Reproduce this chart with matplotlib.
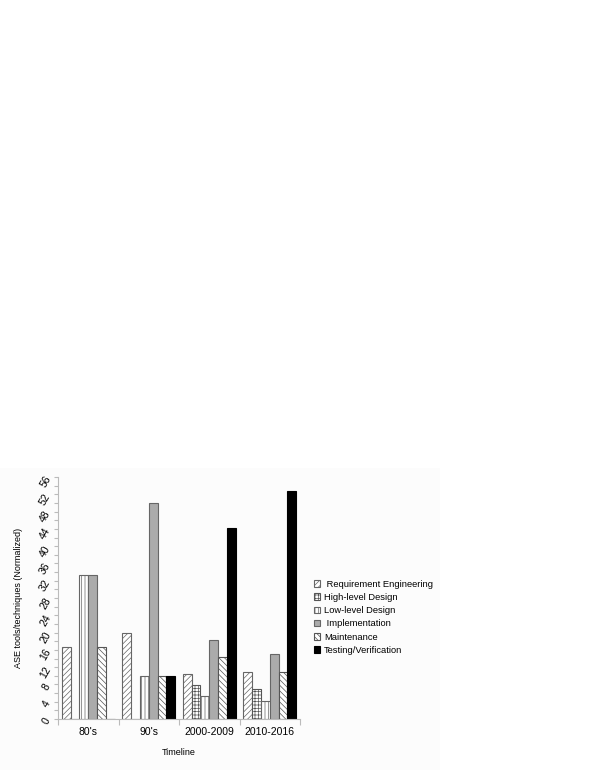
import numpy as np
import matplotlib
matplotlib.use("Agg")
import matplotlib.pyplot as plt
from matplotlib.patches import Rectangle

plt.rcParams['font.family'] = ['Liberation Sans', 'DejaVu Sans']
plt.rcParams['hatch.linewidth'] = 0.5

# Data
periods = ["80's", "90's", "2000-2009", "2010-2016"]
phases = [" Requirement Engineering", "High-level Design", "Low-level Design",
          " Implementation", "Maintenance", "Testing/Verification"]
req_eng = [16.7, 20.0, 10.5, 10.9]
high_level = [0, 0, 7.9, 6.9]
low_level = [33.3, 10.0, 5.3, 4.2]
implementation = [33.3, 50.0, 18.3, 15.0]
maintenance = [16.7, 10.0, 14.4, 10.9]
testing = [0, 10.0, 44.2, 52.7]

series = [req_eng, high_level, low_level, implementation, maintenance, testing]
faces = ['white', 'white', 'white', '#ababab', 'white', 'black']
hatches = ['//////', '+++++', '|||||', None, '\\\\\\\\\\\\', None]
edges = ['#666666', '#555555', '#666666', '#666666', '#555555', 'black']

fig = plt.figure(figsize=(5.95, 7.7), dpi=100)
# faint off-white panel behind the chart
fig.patches.append(Rectangle((0, 0), 440 / 595, 302 / 770, transform=fig.transFigure,
                             facecolor='#fcfcfc', edgecolor='none', zorder=-10))

ax = fig.add_axes([58 / 595, 51 / 770, 242 / 595, 242 / 770])
ax.set_facecolor('none')

x = np.arange(len(periods))
w = 0.88 / 6
for i, (vals, fc, h, ec, lab) in enumerate(zip(series, faces, hatches, edges, phases)):
    ax.bar(x + (i - 2.5) * w, vals, w, color=fc, hatch=h, edgecolor=ec,
           linewidth=0.8, label=lab)

ax.set_xlim(-0.5, 3.5)
ax.set_ylim(0, 56)
ax.set_yticks(np.arange(0, 57, 4))
ax.set_yticks(np.arange(0, 57, 2), minor=True)
ax.set_yticklabels([str(v) for v in range(0, 57, 4)], rotation=60,
                   ha='right', va='center', rotation_mode='anchor')
ax.set_xticks(np.arange(-0.5, 3.6, 1))
ax.set_xticklabels([])
ax.set_xticks(x, minor=True)
ax.set_xticklabels(periods, minor=True)
ax.tick_params(axis='x', which='major', length=4, color='#bbbbbb', width=0.8)
ax.tick_params(axis='x', which='minor', length=0, pad=6, labelsize=7.5)
ax.tick_params(axis='y', which='both', length=3, color='#bbbbbb', width=0.8,
               labelsize=7.5, pad=4)

for s in ['top', 'right']:
    ax.spines[s].set_visible(False)
for s in ['left', 'bottom']:
    ax.spines[s].set_color('#bbbbbb')
    ax.spines[s].set_linewidth(0.8)

ax.set_xlabel('Timeline', fontsize=6.5, labelpad=8)
ax.set_ylabel('ASE tools/techniques (Normalized)', fontsize=6.5, labelpad=11)

leg = fig.legend(loc='upper left', bbox_to_anchor=(310 / 595, 1 - 576 / 770),
                 frameon=False, fontsize=6.75, handlelength=0.7, handleheight=0.7,
                 handletextpad=0.4, labelspacing=0.45, borderaxespad=0)

fig.savefig('out.png', dpi=100)
